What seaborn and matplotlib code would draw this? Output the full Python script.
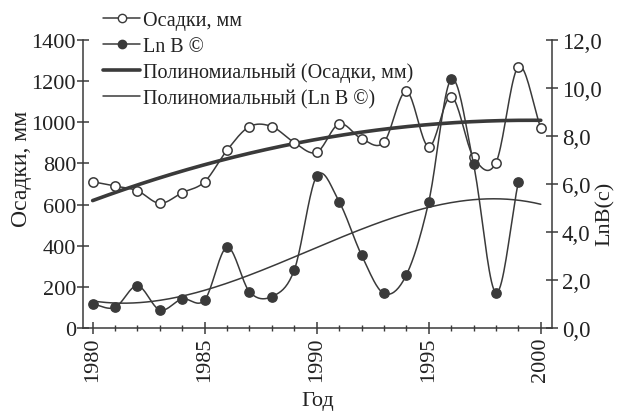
import numpy as np
import pandas as pd
import matplotlib
matplotlib.use("Agg")
import matplotlib.pyplot as plt
import seaborn as sns
from matplotlib.ticker import MultipleLocator, FuncFormatter
from matplotlib.lines import Line2D

years_p = list(range(1980, 2001))
precip = [711, 690, 667, 606, 658, 711, 865, 979, 979, 901, 854, 992,
          920, 903, 1150, 881, 1125, 830, 804, 1270, 971]
years_b = list(range(1980, 2000))
lnb = [1.0, 0.86, 1.76, 0.75, 1.21, 1.17, 3.36, 1.51, 1.31, 2.42, 6.33,
       5.26, 3.04, 1.44, 2.21, 5.26, 10.36, 6.82, 1.47, 6.1]

label_p = "Осадки, мм"
label_b = "Ln B ©"
label_tp = "Полиномиальный (Осадки, мм)"
label_tb = "Полиномиальный (Ln B ©)"

COL = "#3a3a3a"
TXT = "#222222"


def smooth(x, y, n=20):
    """Catmull-Rom style smoothing of a line through the points (line style only)."""
    x = np.asarray(x, float)
    y = np.asarray(y, float)
    px = np.concatenate([[2 * x[0] - x[1]], x, [2 * x[-1] - x[-2]]])
    py = np.concatenate([[2 * y[0] - y[1]], y, [2 * y[-1] - y[-2]]])
    xs, ys = [], []
    t = np.linspace(0, 1, n, endpoint=False)
    for i in range(1, len(px) - 2):
        p0x, p1x, p2x, p3x = px[i - 1:i + 3]
        p0y, p1y, p2y, p3y = py[i - 1:i + 3]
        for (a0, a1, a2, a3, out) in ((p0x, p1x, p2x, p3x, xs), (p0y, p1y, p2y, p3y, ys)):
            out.extend(0.5 * ((2 * a1) + (-a0 + a2) * t +
                              (2 * a0 - 5 * a1 + 4 * a2 - a3) * t ** 2 +
                              (-a0 + 3 * a1 - 3 * a2 + a3) * t ** 3))
    xs.append(x[-1])
    ys.append(y[-1])
    return np.array(xs), np.array(ys)


sns.set_theme(style="white")
plt.rcParams["font.family"] = ["Liberation Serif", "DejaVu Serif"]

fig = plt.figure(figsize=(6.25, 4.14), dpi=100)
ax = fig.add_axes([0.1328, 0.2053, 0.7504, 0.6957])
ax2 = ax.twinx()

# smoothed data lines
sx, sy = smooth(years_p, precip)
sns.lineplot(x=sx, y=sy, ax=ax, color=COL, lw=1.1, sort=False, estimator=None)
sns.scatterplot(x=years_p, y=precip, ax=ax, s=45, facecolor="white",
                edgecolor=COL, linewidth=1.1, zorder=5)

bx, by = smooth(years_b, lnb)
sns.lineplot(x=bx, y=by, ax=ax2, color=COL, lw=1.1, sort=False, estimator=None)
sns.scatterplot(x=years_b, y=lnb, ax=ax2, s=45, color=COL,
                edgecolor=COL, linewidth=1.0, zorder=5)

# polynomial trend lines
xt = np.linspace(1980, 2000, 200)
cp = np.polyfit(np.array(years_p) - 1980, precip, 2)
sns.lineplot(x=xt, y=np.polyval(cp, xt - 1980), ax=ax, color=COL, lw=2.6)
cb = np.polyfit(np.array(years_b) - 1980, lnb, 3)
sns.lineplot(x=xt, y=np.polyval(cb, xt - 1980), ax=ax2, color=COL, lw=1.1)

ax.set_xlim(1979.57, 2000.5)
ax.set_ylim(0, 1400)
ax2.set_ylim(0, 12)
ax.xaxis.set_major_locator(MultipleLocator(5))
ax.xaxis.set_minor_locator(MultipleLocator(1))
ax.yaxis.set_major_locator(MultipleLocator(200))
ax2.yaxis.set_major_locator(MultipleLocator(2))
ax2.yaxis.set_major_formatter(FuncFormatter(lambda v, p: f"{v:.1f}".replace(".", ",")))

for a in (ax, ax2):
    a.spines["top"].set_visible(False)
    for s in ("left", "right", "bottom"):
        a.spines[s].set_color(COL)
        a.spines[s].set_linewidth(1.1)
    a.grid(False)

ax.spines["right"].set_visible(False)
ax2.spines["left"].set_visible(False)
ax2.spines["bottom"].set_visible(False)

ax.tick_params(axis="x", which="major", direction="inout", length=8, width=1.1,
               color=COL, labelsize=16, labelrotation=90, labelcolor=TXT, pad=2,
               bottom=True)
ax.tick_params(axis="x", which="minor", direction="inout", length=5, width=1.0,
               color=COL, bottom=True)
ax.tick_params(axis="y", direction="inout", length=8, width=1.1, color=COL,
               labelsize=16, labelcolor=TXT, pad=1, left=True)
ax2.tick_params(axis="y", direction="inout", length=8, width=1.1, color=COL,
                labelsize=16.5, labelcolor=TXT, pad=3, right=True)

ax.set_xlabel("Год", fontsize=16, color=TXT)
ax.xaxis.set_label_coords(0.5, -0.217)
ax.set_ylabel("Осадки, мм", fontsize=17, color=TXT)
ax.yaxis.set_label_coords(-0.1085, 0.556)
ax2.set_ylabel("LnB(c)", fontsize=16, color=TXT)
ax2.yaxis.set_label_coords(1.092, 0.40)

handles = [
    Line2D([], [], color=COL, lw=1.1, marker="o", markersize=6,
           markerfacecolor="white", markeredgecolor=COL),
    Line2D([], [], color=COL, lw=1.1, marker="o", markersize=6,
           markerfacecolor=COL, markeredgecolor=COL),
    Line2D([], [], color=COL, lw=2.6),
    Line2D([], [], color=COL, lw=1.1),
]
leg = fig.legend(handles, [label_p, label_b, label_tp, label_tb],
                 loc="upper left", bbox_to_anchor=(0.155, 0.985), frameon=False,
                 fontsize=14.5, handlelength=1.85, handletextpad=0.12,
                 labelspacing=0.33, borderaxespad=0.1, borderpad=0.2)
for t in leg.get_texts():
    t.set_color(TXT)

fig.savefig("out.png", dpi=100, facecolor="white")
